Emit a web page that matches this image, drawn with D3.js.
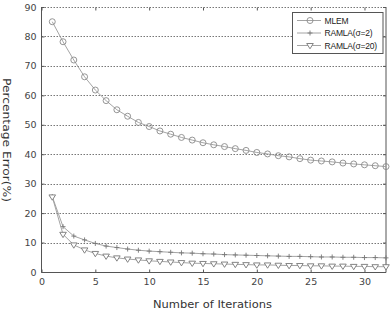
<!DOCTYPE html>
<html>
<head>
<meta charset="utf-8">
<script src="https://cdn.jsdelivr.net/npm/d3@7"></script>
<style>
    body { margin: 0; background: #fff; }
    svg { display: block; }
</style>
</head>
<body>
<div id="chart"></div>
<script>
const iterations = d3.range(1, 33);
const mlem = [
    85.0, 78.2, 72.0, 66.3, 61.8, 58.2, 55.1, 52.9, 50.8, 49.4, 47.9, 46.8, 45.7, 44.8, 43.9, 43.2,
    42.6, 41.9, 41.3, 40.6, 40.1, 39.5, 39.1, 38.5, 38.0, 37.7, 37.4, 37.0, 36.7, 36.4, 36.1, 35.8
];
const ramla2 = [
    25.6, 15.4, 12.2, 10.9, 9.7, 8.8, 8.3, 7.8, 7.4, 7.1, 6.9, 6.7, 6.5, 6.4, 6.2, 6.1,
    5.9, 5.8, 5.7, 5.6, 5.5, 5.4, 5.3, 5.3, 5.2, 5.1, 5.1, 5.0, 5.0, 4.9, 4.9, 4.8
];
const ramla20 = [
    25.5, 12.8, 9.2, 7.5, 6.3, 5.4, 4.8, 4.4, 4.1, 3.8, 3.6, 3.4, 3.2, 3.0, 2.9, 2.8,
    2.7, 2.6, 2.5, 2.4, 2.4, 2.3, 2.2, 2.2, 2.1, 2.1, 2.0, 2.0, 1.9, 1.9, 1.8, 1.8
];
const seriesNames = ["MLEM", "RAMLA(\u03c3=2)", "RAMLA(\u03c3=20)"];
const xTicks = [0, 5, 10, 15, 20, 25, 30];
const yTicks = [0, 10, 20, 30, 40, 50, 60, 70, 80, 90];

const width = 391;
const height = 315;
const plotLeft = 41.5, plotRight = 386, plotTop = 7, plotBottom = 272;

const svg = (
    d3.select("#chart")
    .append("svg")
    .attr("width", width)
    .attr("height", height)
    .style("font-family", "'DejaVu Sans', sans-serif")
);

const x = d3.scaleLinear().domain([0, 32]).range([plotLeft, plotRight]);
const y = d3.scaleLinear().domain([0, 90]).range([plotBottom, plotTop]);

// dotted horizontal grid
(
    svg.append("g")
    .selectAll("line")
    .data(yTicks.filter((d) => d > 0))
    .join("line")
    .attr("x1", plotLeft)
    .attr("x2", plotRight)
    .attr("y1", (d) => Math.round(y(d)) + 0.5)
    .attr("y2", (d) => Math.round(y(d)) + 0.5)
    .attr("stroke", "#777")
    .attr("stroke-width", 1)
    .attr("stroke-dasharray", "1.5,1.5")
);

// box: left, bottom, right solid
(
    svg.append("path")
    .attr("d", `M${plotLeft},${plotTop}V${plotBottom + 0.5}H${plotRight}V${plotTop}`)
    .attr("fill", "none")
    .attr("stroke", "#555")
    .attr("stroke-width", 1)
);

// axes with inward ticks
const xAxisB = d3.axisBottom(x).tickValues(xTicks).tickSizeInner(-3).tickSizeOuter(0).tickPadding(6);
const xAxisT = d3.axisTop(x).tickValues(xTicks).tickSizeInner(-3).tickSizeOuter(0).tickFormat("");
const yAxisL = d3.axisLeft(y).tickValues(yTicks).tickSizeInner(-3).tickSizeOuter(0).tickPadding(5);
const yAxisR = d3.axisRight(y).tickValues(yTicks).tickSizeInner(-3).tickSizeOuter(0).tickFormat("");

const gxb = svg.append("g").attr("transform", `translate(0,${plotBottom + 0.5})`).call(xAxisB);
const gxt = svg.append("g").attr("transform", `translate(0,${plotTop + 0.5})`).call(xAxisT);
const gyl = svg.append("g").attr("transform", `translate(${plotLeft},0)`).call(yAxisL);
const gyr = svg.append("g").attr("transform", `translate(${plotRight},0)`).call(yAxisR);
for (const g of [gxb, gxt, gyl, gyr]) {
    g.select(".domain").remove();
    g.selectAll(".tick line").attr("stroke", "#555");
    g.selectAll("text")
        .attr("fill", "#444")
        .style("font-size", "9.5px")
        .style("font-family", "'DejaVu Sans', sans-serif");
}

// axis titles
(
    svg.append("text")
    .attr("x", 212.5)
    .attr("y", 308)
    .attr("text-anchor", "middle")
    .attr("fill", "#333")
    .style("font-size", "11px")
    .attr("textLength", 119)
    .attr("lengthAdjust", "spacingAndGlyphs")
    .text("Number of Iterations")
);
(
    svg.append("text")
    .attr("transform", "translate(2.5,140) rotate(90)")
    .attr("text-anchor", "middle")
    .attr("fill", "#333")
    .style("font-size", "11px")
    .attr("textLength", 124)
    .attr("lengthAdjust", "spacingAndGlyphs")
    .text("Percentage Error(%)")
);

const line = d3.line().x((d) => x(d[0])).y((d) => y(d[1]));
const allSeries = [mlem, ramla2, ramla20];
const lineColor = "#9a9a9a";
const markColor = "#8a8a8a";

function drawMarker(g, kind, cx, cy) {
    if (kind === 0) {
        g.append("circle").attr("cx", cx).attr("cy", cy).attr("r", 3)
            .attr("fill", "none").attr("stroke", markColor).attr("stroke-width", 0.9);
    } else if (kind === 1) {
        g.append("path").attr("d", `M${cx - 2.5},${cy}H${cx + 2.5}M${cx},${cy - 2.5}V${cy + 2.5}`)
            .attr("stroke", "#777").attr("stroke-width", 0.9);
    } else {
        g.append("path").attr("d", `M${cx - 3.3},${cy - 2}H${cx + 3.3}L${cx},${cy + 3.3}Z`)
            .attr("fill", "#fff").attr("stroke", "#777").attr("stroke-width", 0.9);
    }
}

allSeries.forEach((values, k) => {
    const pts = iterations.map((it, i) => [it, values[i]]);
    (
        svg.append("path")
        .datum(pts)
        .attr("d", line)
        .attr("fill", "none")
        .attr("stroke", lineColor)
        .attr("stroke-width", 0.9)
    );
    const g = svg.append("g");
    pts.forEach((p) => drawMarker(g, k, x(p[0]), y(p[1])));
});

// legend
const legend = svg.append("g");
(
    legend.append("rect")
    .attr("x", 292.5)
    .attr("y", 12.5)
    .attr("width", 90.5)
    .attr("height", 41)
    .attr("fill", "#fff")
    .attr("stroke", "#555")
);
seriesNames.forEach((name, k) => {
    const ly = 20.5 + k * 12.5;
    legend.append("line").attr("x1", 297).attr("x2", 321).attr("y1", ly).attr("y2", ly)
        .attr("stroke", lineColor).attr("stroke-width", 0.9);
    drawMarker(legend, k, 310, ly);
    (
        legend.append("text")
        .attr("x", 324.5)
        .attr("y", ly + 3)
        .attr("fill", "#222")
        .style("font-family", "'Liberation Sans', Arial, sans-serif")
        .style("font-size", "8.5px")
        .style("letter-spacing", "-0.2px")
        .text(name)
    );
});
</script>
</body>
</html>
